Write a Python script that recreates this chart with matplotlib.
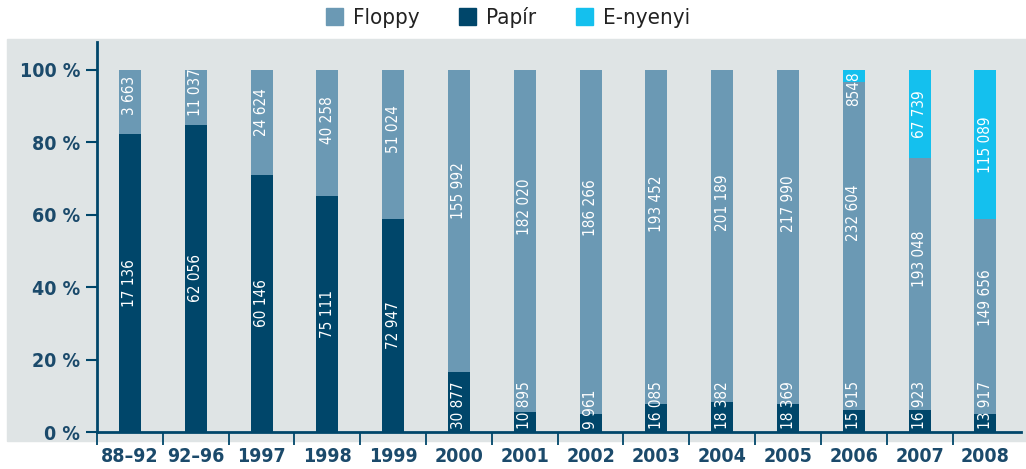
import numpy as np
import matplotlib
matplotlib.use('Agg')
import matplotlib.pyplot as plt
from matplotlib.patches import Rectangle, Patch

plt.rcParams['font.family'] = ['DejaVu Sans']
plt.rcParams['font.stretch'] = 'condensed'

categories = ['88–92', '92–96', '1997', '1998', '1999', '2000', '2001',
              '2002', '2003', '2004', '2005', '2006', '2007', '2008']
papir = [17136, 62056, 60146, 75111, 72947, 30877, 10895,
         9961, 16085, 18382, 18369, 15915, 16923, 13917]
floppy = [3663, 11037, 24624, 40258, 51024, 155992, 182020,
          186266, 193452, 201189, 217990, 232604, 193048, 149656]
enyenyi = [0, 0, 0, 0, 0, 0, 0, 0, 0, 0, 0, 8548, 67739, 115089]
yticks = [0, 20, 40, 60, 80, 100]

NAVY = '#00466a'
STEEL = '#6b99b4'
CYAN = '#14c0ee'
BG = '#dfe4e5'
TXT = '#1b4a6b'

papir = np.array(papir, float)
floppy = np.array(floppy, float)
enyenyi = np.array(enyenyi, float)
total = papir + floppy + enyenyi
p_pct = papir / total * 100
f_pct = floppy / total * 100
e_pct = enyenyi / total * 100

def fmt(v, short_plain=False):
    v = int(v)
    if short_plain and v < 10000:
        return str(v)
    return '{:,}'.format(v).replace(',', ' ')

fig = plt.figure(figsize=(10.26, 4.69), dpi=100)
fig.patches.append(Rectangle((7 / 1026, 1 - 441 / 469), 1.0, (441 - 39) / 469,
                             transform=fig.transFigure, color=BG, zorder=-10))
ax = fig.add_axes([97 / 1026, 1 - 432 / 469, (1021 - 97) / 1026, (432 - 42) / 469])
ax.set_zorder(5)
ax.set_facecolor('none')

x = np.arange(len(categories))
w = 0.335
ax.bar(x, p_pct, w, color=NAVY, zorder=2)
ax.bar(x, f_pct, w, bottom=p_pct, color=STEEL, zorder=2)
ax.bar(x, e_pct, w, bottom=p_pct + f_pct, color=CYAN, zorder=2)

lab = dict(rotation=90, color='white', fontsize=11, ha='center', zorder=3)
for i in x:
    # Papír
    if p_pct[i] < 20:
        ax.text(i, 0.8, fmt(papir[i]), va='bottom', **lab)
    else:
        ax.text(i, p_pct[i] / 2, fmt(papir[i]), va='center', **lab)
    # Floppy
    ax.text(i, p_pct[i] + 0.6 * f_pct[i], fmt(floppy[i]), va='center', **lab)
    # E-nyenyi
    if enyenyi[i] > 0:
        top = p_pct[i] + f_pct[i] + e_pct[i]
        if e_pct[i] < 15:
            ax.text(i, top - 0.5, fmt(enyenyi[i], True), va='top', **lab)
        else:
            ax.text(i, p_pct[i] + f_pct[i] + e_pct[i] / 2, fmt(enyenyi[i], True),
                    va='center', **lab)

ax.set_xlim(-0.5, 13.54)
ax.set_ylim(0, 107.7)
ax.set_yticks(yticks)
ax.set_yticklabels([f'{t} %' for t in yticks], fontsize=14, fontweight='bold', color=TXT)
ax.tick_params(axis='y', direction='out', length=8, width=1.5, color=NAVY, pad=4)

ax.set_xticks(np.arange(-0.5, 13, 1.0))
ax.set_xticklabels([])
ax.set_xticks(x, minor=True)
ax.set_xticklabels(categories, minor=True, fontsize=14, fontweight='bold', color=TXT)
ax.tick_params(axis='x', which='major', direction='out', length=9, width=1.3, color=NAVY)
ax.tick_params(axis='x', which='minor', length=0, pad=11)

for s in ['top', 'right']:
    ax.spines[s].set_visible(False)
for s in ['left', 'bottom']:
    ax.spines[s].set_color(NAVY)
    ax.spines[s].set_linewidth(2)

handles = [Patch(color=STEEL, label='Floppy'), Patch(color=NAVY, label='Papír'),
           Patch(color=CYAN, label='E-nyenyi')]
fig.legend(handles=handles, loc='center', bbox_to_anchor=(0.495, 0.962), ncol=3,
           frameon=False, fontsize=16, handlelength=0.75, handleheight=0.75,
           columnspacing=1.8, handletextpad=0.45, labelcolor='#222222',
           borderpad=0)

fig.savefig('out.png', dpi=100)
